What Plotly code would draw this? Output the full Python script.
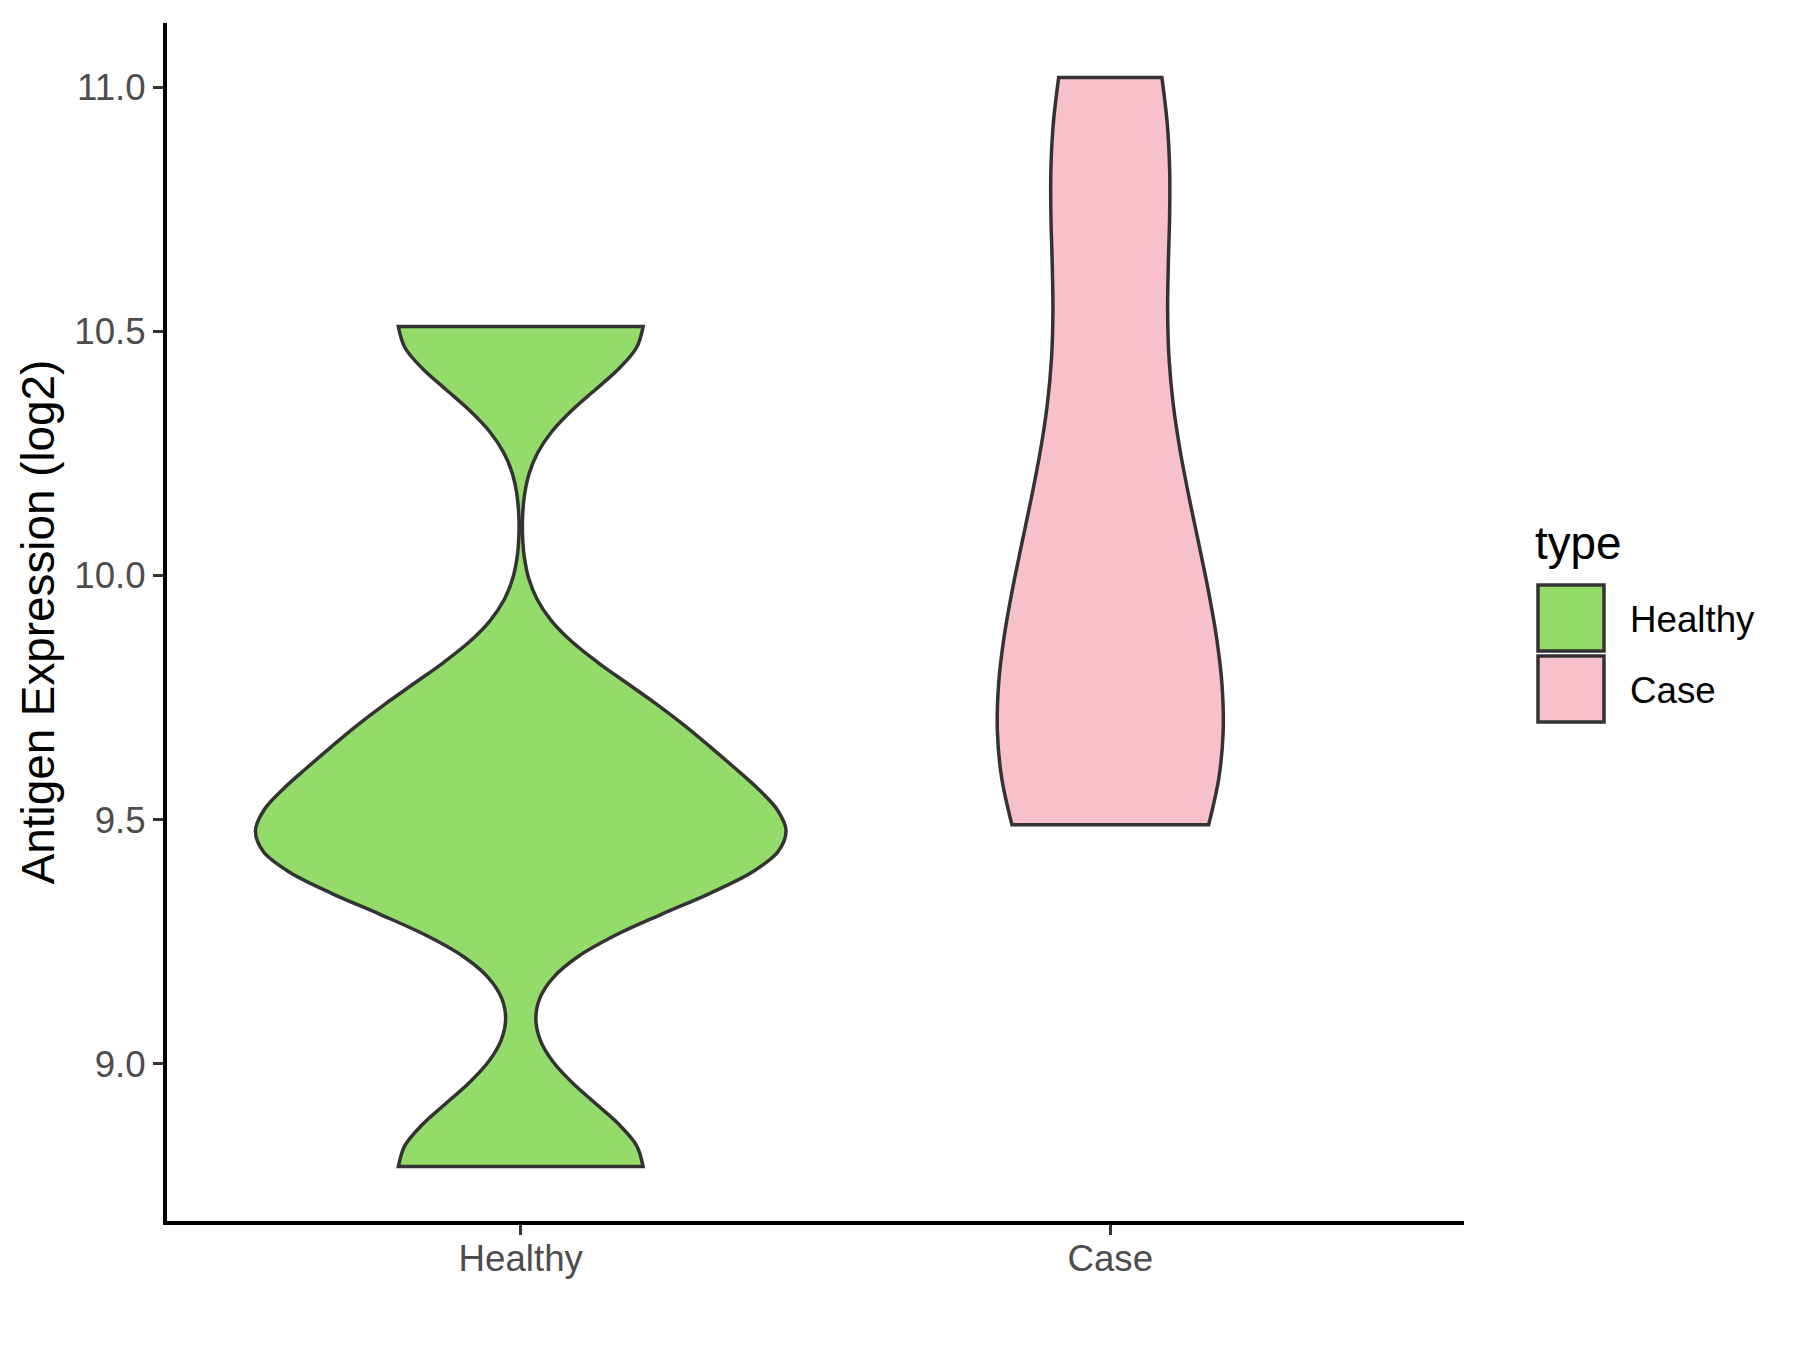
import plotly.graph_objects as go

# categories and colours
groups = ['Healthy', 'Case']
fill_colors = ['#94DC6A', '#F7C0CB']

# expression values (log2)
healthy_values = [8.79, 9.42, 9.47, 9.69, 10.51]
case_values = [9.49, 9.52, 9.72, 9.95, 10.20, 10.72, 11.02]

# kernel bandwidth per group and relative violin width (ggplot scale="area")
bandwidths = [0.13, 0.30]
widths = [0.90, 0.383]

y_ticks = [9.0, 9.5, 10.0, 10.5, 11.0]

OUTLINE = '#333333'
FONT = 'Arial, Liberation Sans, sans-serif'

fig = go.Figure()
for name, vals, col, bw, w in zip(groups, [healthy_values, case_values],
                                  fill_colors, bandwidths, widths):
    fig.add_trace(go.Violin(
        x=[name] * len(vals), y=vals, name=name,
        fillcolor=col, opacity=1,
        line=dict(color=OUTLINE, width=3.5),
        bandwidth=bw, spanmode='hard', scalemode='width', width=w,
        points=False, box_visible=False, meanline_visible=False,
        showlegend=False, hoverinfo='y',
    ))

fig.update_layout(
    width=1800, height=1350,
    margin=dict(l=159, r=344, t=15, b=137),
    plot_bgcolor='white', paper_bgcolor='white',
    violinmode='overlay',
    font=dict(family=FONT),
    xaxis=dict(
        type='category', categoryorder='array', categoryarray=groups,
        range=[-0.6, 1.6], showgrid=False, zeroline=False,
        showline=True, linecolor='black', linewidth=4,
        ticks='outside', ticklen=10, tickwidth=3, tickcolor=OUTLINE,
        ticklabelstandoff=-8,
        tickfont=dict(size=36.7, color='#4D4D4D', family=FONT),
    ),
    yaxis=dict(
        range=[8.6785, 11.1315], tickvals=y_ticks,
        ticktext=[f'{v:.1f}' for v in y_ticks],
        showgrid=False, zeroline=False,
        showline=True, linecolor='black', linewidth=4,
        ticks='outside', ticklen=10, tickwidth=3, tickcolor=OUTLINE,
        tickfont=dict(size=36.7, color='#4D4D4D', family=FONT),
        title=dict(text='Antigen Expression (log2)', standoff=6,
                   font=dict(size=45.8, color='black', family=FONT)),
    ),
)

# legend drawn by hand so the keys match ggplot's large squares
def px_x(p):
    return (p - 167) / 1297


def px_y(p):
    return (1221 - p) / 1198


fig.add_annotation(x=px_x(1533), y=px_y(543), xref='paper', yref='paper',
                   text='type', showarrow=False, xanchor='left', yanchor='middle',
                   font=dict(size=45.8, color='black', family=FONT))
for i, (name, col) in enumerate(zip(groups, fill_colors)):
    top = 585 + i * 71
    fig.add_shape(type='rect', xref='paper', yref='paper',
                  x0=px_x(1538), x1=px_x(1604), y0=px_y(top + 66), y1=px_y(top),
                  fillcolor=col, line=dict(color=OUTLINE, width=3.5))
    fig.add_annotation(x=px_x(1628), y=px_y(top + 34), xref='paper', yref='paper',
                       text=name, showarrow=False, xanchor='left', yanchor='middle',
                       font=dict(size=36.7, color='black', family=FONT))

fig.write_html('out.html')
